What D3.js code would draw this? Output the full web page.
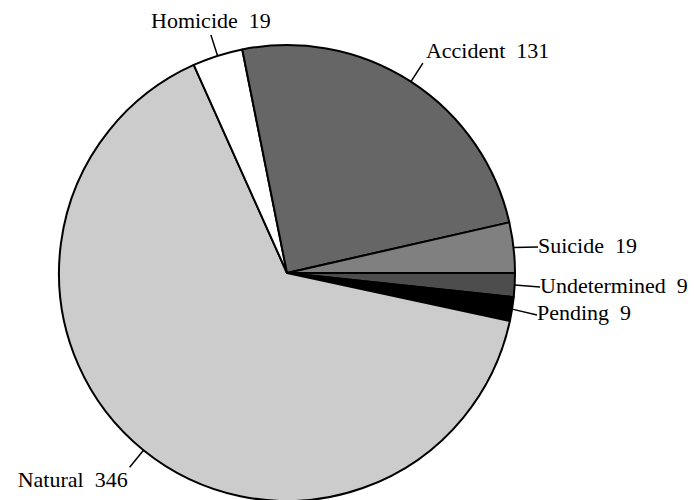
<!DOCTYPE html>
<html><head><meta charset="utf-8">
<script src="https://cdn.jsdelivr.net/npm/d3@7"></script>
<style>
html,body{margin:0;padding:0;background:#fff;}
text{font-family:"Liberation Serif","Times New Roman",serif;white-space:pre;}
</style></head>
<body><svg id="c" width="694" height="500"></svg>
<script>
// Data (clockwise order starting at 3 o'clock)
const categories = ["Undetermined", "Pending", "Natural", "Homicide", "Accident", "Suicide"];
const values = [9, 9, 346, 19, 131, 19];
const colors = ["#4d4d4d", "#000000", "#cccccc", "#ffffff", "#666666", "#808080"];

const svg = d3.select("#c");
const cx = 287, cy = 273, r = 228;
const g = svg.append("g").attr("transform", `translate(${cx},${cy})`);

const pie = d3.pie().sort(null).value(d => d.v).startAngle(Math.PI/2).endAngle(Math.PI/2 + 2*Math.PI);
const data = categories.map((c,i) => ({c, v: values[i], col: colors[i]}));
const arcs = pie(data);
const arc = d3.arc().innerRadius(0).outerRadius(r);

g.selectAll("path.s").data(arcs).join("path")
  .attr("d", arc)
  .attr("fill", d => d.data.col)
  .attr("stroke", "#000").attr("stroke-width", 2).attr("stroke-linejoin", "round");

// label placement rules (layout, not data)
const labelLayout = {
  "Homicide": {type: "radial", anchor: "middle", dx: 0, dy: -7},
  "Accident": {type: "radial", anchor: "start", dx: 3, dy: -5},
  "Natural": {type: "radial", anchor: "end", dx: -2, dy: 20},
  "Suicide": {type: "side", x: 538, ly: 247, dy: 6},
  "Undetermined": {type: "side", x: 540, ly: 287, dy: 6},
  "Pending": {type: "side", x: 537, ly: 315, dy: 5}
};

const pt = (a, rad) => [rad*Math.sin(a), -rad*Math.cos(a)];
const fs = 22;
arcs.forEach(d => {
  const L = labelLayout[d.data.c];
  const mid = (d.startAngle + d.endAngle)/2;
  const p0 = pt(mid, r);
  const txt = d.data.c + "  " + d.data.v;
  if (L.type === "radial") {
    const p1 = pt(mid, r + 22);
    g.append("line").attr("x1", p0[0]).attr("y1", p0[1]).attr("x2", p1[0]).attr("y2", p1[1])
      .attr("stroke", "#000").attr("stroke-width", 1.5);
    g.append("text").attr("x", p1[0] + L.dx).attr("y", p1[1] + L.dy)
      .attr("text-anchor", L.anchor).attr("font-size", fs).attr("fill", "#000").text(txt);
  } else {
    const x2 = L.x - cx, y2 = L.ly - cy;
    g.append("line").attr("x1", p0[0]).attr("y1", p0[1]).attr("x2", x2).attr("y2", y2)
      .attr("stroke", "#000").attr("stroke-width", 1.5);
    g.append("text").attr("x", x2).attr("y", y2 + L.dy)
      .attr("text-anchor", "start").attr("font-size", fs).attr("fill", "#000").text(txt);
  }
});
</script></body></html>
